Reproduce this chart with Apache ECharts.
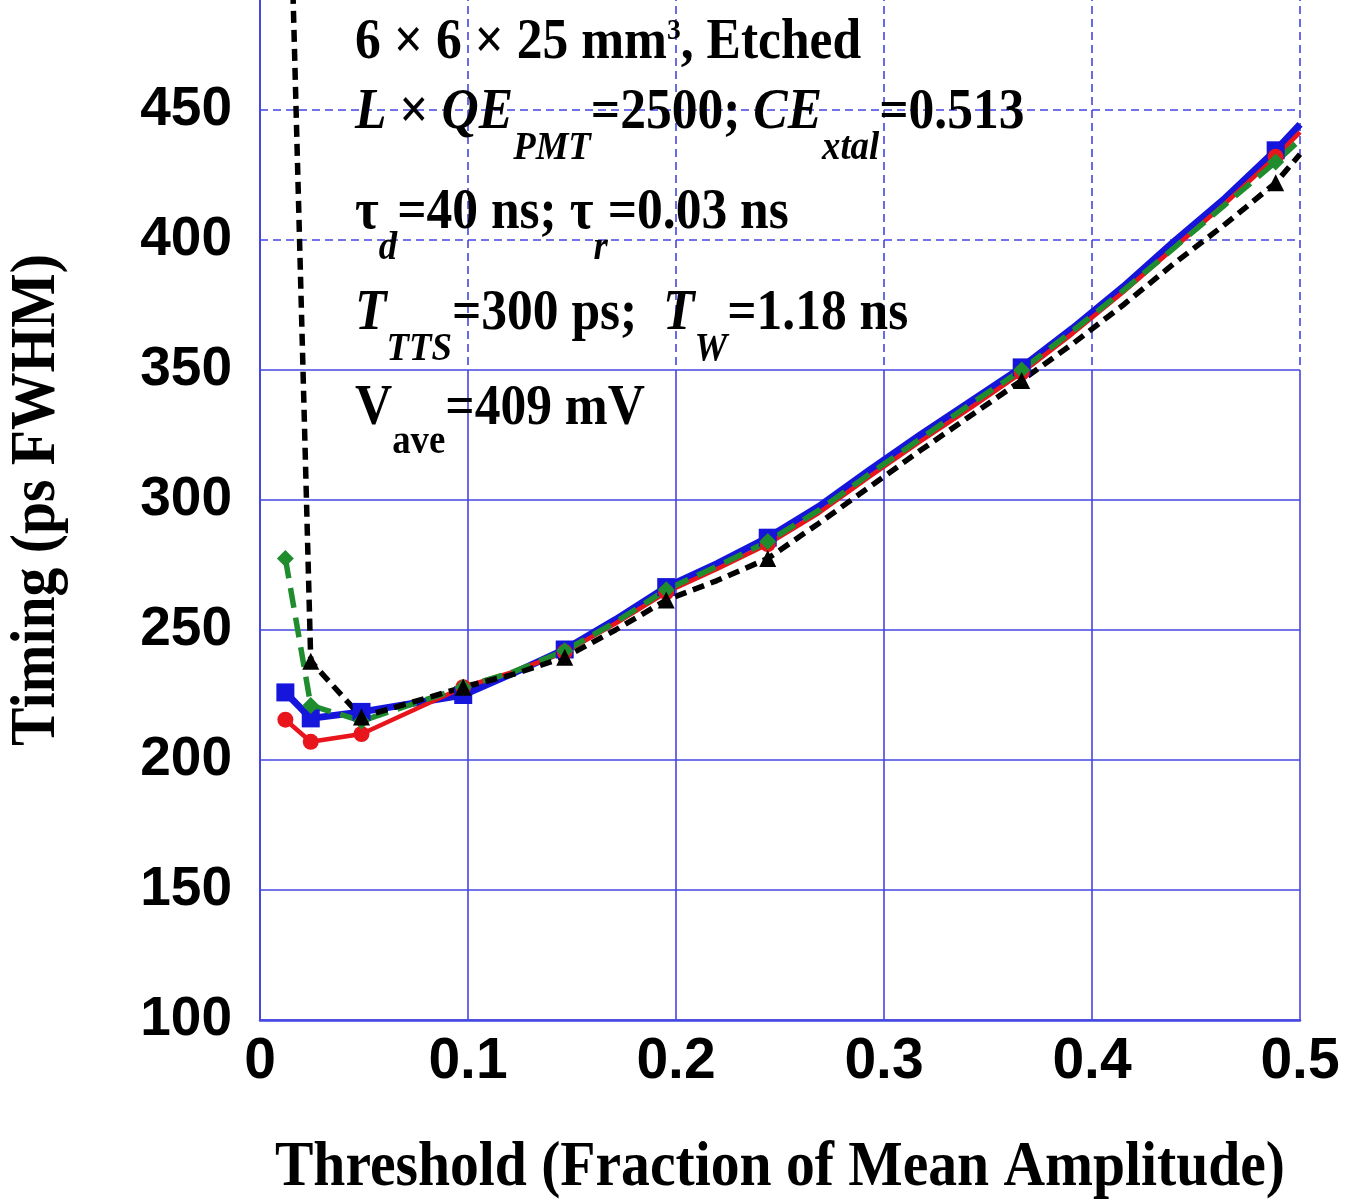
<!DOCTYPE html>
<html>
<head>
<meta charset="utf-8">
<script src="https://cdn.jsdelivr.net/npm/echarts@6/dist/echarts.min.js"></script>
<style>
  html, body { margin: 0; padding: 0; background: #fff; }
  #chart { width: 1357px; height: 1199px; }
</style>
</head>
<body>
<div id="chart"></div>
<script>
// Threshold as a fraction of the mean pulse amplitude
const thresholds = [0.0122, 0.0244, 0.0488, 0.0977, 0.1221, 0.1465, 0.1709, 0.1953, 0.2197, 0.2441,
                    0.2686, 0.2930, 0.3174, 0.3418, 0.3662, 0.3906, 0.4150, 0.4395, 0.4639, 0.4883, 0.5000];
// which thresholds carry a plotted symbol
const markedPoints = [1, 1, 1, 1, 0, 1, 0, 1, 0, 1, 0, 0, 0, 0, 1, 0, 0, 0, 0, 1, 0];

// Timing resolution (ps FWHM) for the four estimators
const timingRed   = [215.5, 207, 210, 228, 234, 241.5, 252.5, 264.5, 273.5, 283, 295, 309, 322.5, 335.5, 349, 364, 380, 397, 414, 432, 441.5];
const timingBlue  = [226, 216, 218.5, 225, 233.5, 242.5, 254, 266.5, 275.5, 285.5, 297.5, 311.5, 325, 338, 351, 366, 382, 399.5, 416, 434.5, 444.5];
const timingGreen = [277.5, 221, 215, 228, 234, 242, 253, 265.5, 274.5, 284, 296, 310, 323.5, 337, 350, 365, 380.5, 397, 413.5, 430, 438.5];
const timingBlack = [605, 238, 216.5, 228, 233, 239.5, 250, 261.5, 269, 277.5, 291, 305, 319, 332.5, 346, 360, 375, 391, 406, 422, 433];

const xTickLabels = ['0', '0.1', '0.2', '0.3', '0.4', '0.5'];
const yTickLabels = ['100', '150', '200', '250', '300', '350', '400', '450'];

const xTitle = 'Threshold (Fraction of Mean Amplitude)';
const yTitle = 'Timing (ps FWHM)';

const serif = '"Liberation Serif", "Times New Roman", serif';
const sans = '"Liberation Sans", Arial, sans-serif';
const gridBlue = '#4646e2';

function buildData(vals) {
  return thresholds.map((x, i) => {
    const item = { value: [x, vals[i]] };
    if (!markedPoints[i]) item.symbol = 'none';
    return item;
  });
}

const rich = {
  m:   { fontFamily: serif, fontSize: 56, fontWeight: 'bold', lineHeight: 60, verticalAlign: 'top', fill: '#000' },
  mi:  { fontFamily: serif, fontSize: 56, fontWeight: 'bold', fontStyle: 'italic', lineHeight: 60, verticalAlign: 'top', fill: '#000' },
  s:   { fontFamily: serif, fontSize: 40, fontWeight: 'bold', fontStyle: 'italic', height: 40, padding: [43, 0, 0, 0], verticalAlign: 'top', fill: '#000' },
  su:  { fontFamily: serif, fontSize: 40, fontWeight: 'bold', height: 40, padding: [41, 0, 0, 0], verticalAlign: 'top', fill: '#000' },
  sup: { fontFamily: serif, fontSize: 30, fontWeight: 'bold', height: 30, verticalAlign: 'top', fill: '#000' }
};

const annotationLines = [
  '{m|6 × 6 × 25 mm}{sup|3}{m|, Etched}',
  '{mi|L}{m| × }{mi|QE}{s|PMT}{m|=2500; }{mi|CE}{s|xtal}{m|=0.513}',
  '{m|τ}{s|d}{m|=40 ns; τ}{s|r}{m|=0.03 ns}',
  '{mi|T}{s|TTS}{m|=300 ps;  }{mi|T}{s|W}{m|=1.18 ns}',
  '{m|V}{su|ave}{m|=409 mV}'
];
const annotationTops = [16, 86, 186, 287, 382];

const hiddenAxisBits = { axisLine: { show: false }, axisTick: { show: false }, axisLabel: { show: false } };

const option = {
  backgroundColor: '#fff',
  animation: false,
  grid: [
    { left: 260, right: 57, top: -20, bottom: 179, containLabel: false, outerBoundsMode: 'none' },
    { left: 260, right: 57, top: 370, bottom: 179, containLabel: false, outerBoundsMode: 'none' },
    { left: 260, right: 57, top: -20, bottom: 829, containLabel: false, outerBoundsMode: 'none' }
  ],
  xAxis: [
    {
      gridIndex: 0, type: 'value', min: 0, max: 0.5, interval: 0.1,
      axisLine: { show: true, onZero: false, lineStyle: { color: gridBlue, width: 2.5 } },
      axisTick: { show: false },
      splitLine: { show: false },
      axisLabel: {
        margin: 14, color: '#000', fontFamily: sans, fontWeight: 'bold', fontSize: 57,
        formatter: v => xTickLabels[Math.round(v / 0.1)]
      }
    },
    Object.assign({
      gridIndex: 1, type: 'value', min: 0, max: 0.5, interval: 0.1,
      splitLine: { show: true, lineStyle: { color: gridBlue, width: 1.6 } }
    }, hiddenAxisBits),
    Object.assign({
      gridIndex: 2, type: 'value', min: 0, max: 0.5, interval: 0.1,
      splitLine: { show: true, lineStyle: { color: gridBlue, width: 1.6, type: [8, 5] } }
    }, hiddenAxisBits)
  ],
  yAxis: [
    {
      gridIndex: 0, type: 'value', min: 100, max: 500, interval: 50,
      axisLine: { show: true, onZero: false, lineStyle: { color: gridBlue, width: 2 } },
      axisTick: { show: false },
      splitLine: { show: false },
      axisLabel: {
        margin: 28, color: '#000', fontFamily: sans, fontWeight: 'bold', fontSize: 55,
        showMaxLabel: false,
        formatter: v => yTickLabels[Math.round((v - 100) / 50)] || ''
      }
    },
    Object.assign({
      gridIndex: 1, type: 'value', min: 100, max: 350, interval: 50,
      splitLine: { show: true, lineStyle: { color: gridBlue, width: 1.6 } }
    }, hiddenAxisBits),
    Object.assign({
      gridIndex: 2, type: 'value', min: 350, max: 500, interval: 50,
      splitLine: { show: true, showMinLine: false, lineStyle: { color: gridBlue, width: 1.6, type: [8, 5] } }
    }, hiddenAxisBits)
  ],
  series: [
    {
      name: 'blue', type: 'line', xAxisIndex: 0, yAxisIndex: 0,
      data: buildData(timingBlue),
      symbol: 'rect', symbolSize: 18,
      lineStyle: { color: '#1515dc', width: 7 },
      itemStyle: { color: '#1515dc' }
    },
    {
      name: 'red', type: 'line', xAxisIndex: 0, yAxisIndex: 0,
      data: buildData(timingRed),
      symbol: 'circle', symbolSize: 16,
      lineStyle: { color: '#e8161c', width: 4.5 },
      itemStyle: { color: '#e8161c' }
    },
    {
      name: 'green', type: 'line', xAxisIndex: 0, yAxisIndex: 0,
      data: buildData(timingGreen),
      symbol: 'diamond', symbolSize: 17,
      lineStyle: { color: '#1f8c2e', width: 5.5, type: [20, 10] },
      itemStyle: { color: '#1f8c2e' }
    },
    {
      name: 'black', type: 'line', xAxisIndex: 0, yAxisIndex: 0,
      data: buildData(timingBlack),
      symbol: 'triangle', symbolSize: 17,
      lineStyle: { color: '#000', width: 5.5, type: [12, 7] },
      itemStyle: { color: '#000' }
    }
  ],
  graphic: {
    elements: [
      {
        type: 'group', x: 355, y: 0, scaleX: 0.92, z: 100,
        children: annotationLines.map((t, i) => ({
          type: 'text', x: 0, y: annotationTops[i], z: 100,
          style: { text: t, rich: rich, align: 'left', verticalAlign: 'top' }
        }))
      },
      {
        type: 'text', x: 780, y: 1168, scaleX: 0.9, z: 100,
        style: { text: xTitle, fontFamily: serif, fontSize: 64, fontWeight: 'bold', fill: '#000', align: 'center', verticalAlign: 'middle' }
      },
      {
        type: 'text', x: 37, y: 500, rotation: Math.PI / 2, scaleX: 0.9, z: 100,
        style: { text: yTitle, fontFamily: serif, fontSize: 64, fontWeight: 'bold', fill: '#000', align: 'center', verticalAlign: 'middle' }
      }
    ]
  }
};

const chart = echarts.init(document.getElementById('chart'), null, { renderer: 'canvas' });
chart.setOption(option);
</script>
</body>
</html>
